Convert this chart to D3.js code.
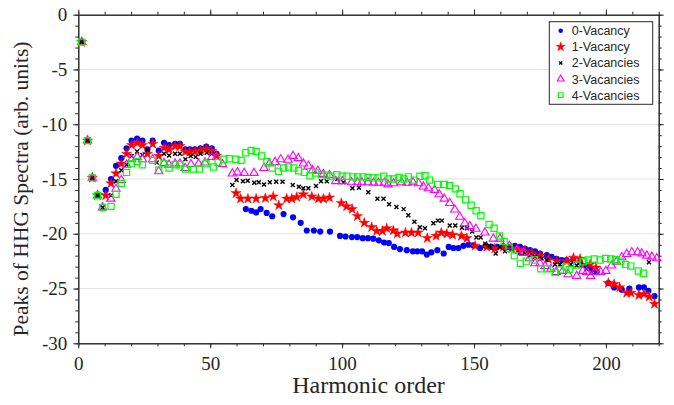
<!DOCTYPE html>
<html>
<head>
<meta charset="utf-8">
<script src="https://cdn.jsdelivr.net/npm/d3@7"></script>
<style>
  body { margin: 0; background: #fff; }
  .tick text { font-family: 'Liberation Serif', serif; }
</style>
</head>
<body>
<div id="svg"></div>
<script>
// peak positions (harmonic order) and heights, one pair of arrays per series
var order0 = [1.3,3.5,5.3,7.3,10.4,12.4,14.3,16.3,18.3,20.2,22.3,24.3,26.2,28.2,30.5,32.5,34.4,36.7,38.5,40.6,42.3,44.2,46.3,48.5,50.6,52.4,
  63.5,65.6,67.4,69.1,71.4,73.5,77.8,81.4,84.3,86.6,89.3,91.7,95.4,99.2,101.3,103.7,105.7,107.8,109.8,111.8,113.9,115.9,117.7,119.7,121.9,124.5,126.8,128.5,130.3,132.1,133.8,136.1,138.5,140.4,142.2,144.1,146,147.9,149.7,152.3,154.4,156.6,158.8,161.1,163.3,165.5,167.4,169.3,171.2,173.1,175,177.6,179.4,181.3,183.2,185.1,187.6,190.2,192.7,194.6,196.5,
  200.9,203.1,206,208.9,212.5,214.4,216.1,218.4];
var peaks0 = [-2.5,-11.5,-14.9,-16.5,-16.0,-15.0,-13.8,-13.1,-12.2,-11.5,-11.3,-11.5,-12.3,-11.5,-12.4,-11.7,-11.9,-11.8,-11.8,-12.3,-12.3,-12.3,-12.2,-12.05,-12.2,-12.7,
  -17.75,-17.9,-18.05,-17.75,-18.1,-18.4,-18.2,-18.5,-19.0,-19.7,-19.7,-19.8,-19.8,-20.2,-20.25,-20.3,-20.3,-20.4,-20.4,-20.45,-20.6,-20.8,-20.85,-21.2,-21.4,-21.5,-21.6,-21.6,-21.6,-21.9,-21.7,-21.5,-21.8,-21.2,-21.3,-21.3,-21.1,-21.0,-21.05,-21.3,-21.1,-21.2,-21.2,-21.15,-21.2,-21.1,-21.2,-21.35,-21.5,-21.6,-21.8,-21.95,-22.1,-22.3,-22.4,-22.4,-22.4,-22.6,-22.9,-23.2,-23.5,
  -24.5,-24.9,-25.1,-25.0,-24.9,-24.9,-25.2,-25.7];

var order1 = [1.3,3.5,5.3,7.3,10.4,12.4,14.3,16.3,18.3,20.2,22.3,24.3,26.2,28.2,30.5,32.5,34.4,36.7,38.5,40.6,42.3,44.2,46.3,48.5,50.6,52.4,
  59.8,61.5,64.3,67.4,70.9,73.9,76.0,79.0,80.9,82.8,85.3,88.5,91.0,92.9,95.2,99.7,101.7,103.8,105.8,108.4,111.2,113.1,115.3,116.9,119.4,120.9,124.0,126.3,128.8,132.3,135.6,137.6,139.7,141.9,145.2,147.3,150.4,154.8,157.9,161.1,164.3,166.8,169.3,171.9,175.0,178.2,181.4,185.1,187.7,190.2,194.0,196.2,
  200.9,203.1,205.2,207.9,209.5,212.5,214.4,216.4,218.4];
var peaks1 = [-2.5,-11.5,-14.9,-16.5,-16.5,-15.4,-14.5,-13.6,-12.7,-11.9,-11.7,-11.9,-12.7,-11.8,-12.9,-12.15,-12.3,-12.0,-12.0,-12.5,-12.5,-12.5,-12.4,-12.25,-12.45,-12.9,
  -16.3,-16.8,-16.8,-16.8,-16.75,-16.6,-17.4,-16.8,-16.8,-16.65,-16.4,-16.6,-16.8,-16.8,-16.7,-17.2,-17.5,-17.75,-18.4,-19.0,-19.4,-19.75,-19.75,-19.5,-19.7,-20.0,-19.9,-19.9,-19.9,-20.4,-20.2,-19.9,-20.0,-20.1,-20.2,-20.4,-21.1,-21.2,-21.35,-21.2,-21.35,-21.45,-21.6,-21.8,-22.0,-22.3,-22.5,-22.5,-22.2,-22.3,-22.8,-23.1,
  -24.5,-24.6,-24.9,-25.4,-25.4,-25.6,-25.5,-25.75,-26.4];

var order2 = [1.3,3.5,5.3,7.3,9.2,12.4,14.3,16.3,18.3,20.2,22.3,24.3,26.2,29.7,32.5,34.4,36.7,38.5,40.6,42.6,44.5,46.3,48.7,50.6,
  58.4,60.0,62.4,64.2,66.7,68.4,70.4,72.6,75.0,77.4,81.3,83.6,85.3,87.2,90.1,92.0,94.2,98.2,100.5,103.9,106.4,109.9,113.4,115.7,117.8,120.6,123.3,125.1,127.4,129.5,131.4,134.6,136.3,137.8,140.8,142.9,145.4,147.3,149.3,150.9,152.5,154.2,155.8,158.2,159.8,161.7,164.2,167.2,169.3,171.2,173.1,175.6,177.5,180.7,182.6,186.7,188.9,190.8,192.7,194.6,
  216.3];
var peaks2 = [-2.5,-11.5,-14.9,-16.5,-17.6,-16.5,-15.2,-14.2,-13.7,-12.9,-12.5,-12.8,-12.35,-13.5,-12.7,-12.85,-12.7,-12.7,-13.2,-12.9,-13.0,-12.7,-12.6,-12.7,
  -15.55,-15.1,-15.2,-15.15,-15.35,-15.3,-15.5,-15.3,-15.25,-15.25,-15.55,-15.7,-15.85,-15.85,-15.65,-15.2,-15.2,-15.0,-15.3,-15.85,-15.8,-16.2,-16.8,-16.8,-17.3,-17.55,-17.75,-18.3,-18.9,-19.4,-19.5,-19.05,-18.8,-18.8,-19.25,-19.25,-19.45,-19.5,-19.8,-20.35,-20.35,-20.9,-21.1,-21.8,-21.2,-21.6,-21.4,-21.75,-21.75,-21.95,-22.1,-22.25,-22.4,-22.8,-22.8,-22.8,-22.9,-22.9,-23.25,-23.5,
  -22.6];

var order3 = [1.3,3.5,5.3,7.3,9.2,12.3,14.3,16.3,18.3,20.2,22.3,24.3,28.2,30.5,32.5,34.4,36.7,38.5,40.5,42.7,45.6,48.0,50.6,52.4,54.7,
  58.4,60.3,62.9,66.6,70.4,72.4,74.6,76.7,79.5,81.4,83.4,85.3,87.2,88.8,90.8,92.9,95.2,97.6,100.1,103.6,105.8,107.5,109.8,111.9,113.8,116.0,117.4,119.5,122.5,124.6,126.9,129.0,130.8,132.7,135.0,136.8,138.7,140.8,142.7,144.6,146.5,148.4,150.7,154.1,157.3,159.8,163.4,166.2,168.7,171.0,173.1,175.0,176.9,179.1,181.1,183.6,185.7,188.9,191.2,192.7,194.2,195.8,198.0,200.0,202.1,204.0,206.0,207.9,209.8,212.0,213.6,215.5,217.4,219.3];
var peaks3 = [-2.5,-11.5,-14.9,-16.5,-17.6,-16.8,-15.9,-15.1,-13.7,-13.2,-13.0,-13.2,-13.2,-14.3,-13.55,-13.7,-13.6,-13.6,-14.0,-13.65,-13.6,-13.5,-13.0,-13.0,-13.65,
  -14.5,-14.4,-14.45,-14.45,-14.0,-13.6,-13.45,-13.2,-13.25,-12.9,-13.1,-13.6,-13.8,-14.2,-14.25,-14.55,-14.65,-15.2,-15.2,-15.3,-15.3,-15.3,-15.3,-15.35,-15.35,-15.35,-15.5,-15.4,-15.3,-15.35,-15.3,-15.4,-15.7,-15.85,-16.0,-16.4,-16.8,-17.2,-17.8,-18.45,-19.05,-19.3,-19.55,-19.9,-20.45,-20.45,-21.1,-21.5,-21.75,-22.25,-22.7,-22.7,-22.95,-23.2,-23.5,-23.4,-23.7,-23.85,-23.4,-23.5,-23.85,-23.5,-23.5,-23.4,-22.9,-22.55,-22.15,-21.85,-21.7,-21.7,-21.8,-22.0,-22.1,-22.25];

var order4 = [1.3,3.5,5.3,7.3,9.2,12.4,14.3,16.3,18.3,20.2,22.3,24.3,28.2,30.5,32.5,34.4,36.7,38.5,40.6,43.6,45.9,48.4,51.2,53.0,55.2,57.2,59.7,61.7,63.5,65.5,67.4,69.5,71.5,73.5,75.9,77.8,79.7,81.7,83.5,85.7,87.8,90.0,92.2,94.2,95.7,98.0,100.0,101.8,104.1,105.9,107.9,109.8,111.7,113.6,115.8,117.5,119.5,121.5,123.4,125.1,127.3,129.5,131.4,133.1,136.2,138.8,140.7,142.9,144.7,146.8,148.9,150.8,152.6,155.7,157.6,159.6,161.4,163.3,165.3,167.6,169.8,172.8,175.3,177.8,180.8,182.8,184.8,186.1,188.9,191.4,193.3,195.6,197.8,199.9,201.8,203.7,205.6,207.5,209.4,212.3,214.2];
var peaks4 = [-2.5,-11.5,-14.9,-16.5,-17.6,-17.5,-16.4,-15.4,-14.4,-13.6,-13.4,-13.7,-13.3,-14.2,-13.6,-14.0,-13.7,-13.7,-14.1,-14.1,-14.1,-13.6,-13.9,-13.5,-13.2,-13.15,-13.2,-13.3,-12.6,-12.4,-12.5,-12.9,-13.4,-14.0,-14.3,-14.0,-13.9,-14.0,-14.25,-14.4,-14.7,-14.45,-14.6,-14.65,-14.75,-14.6,-14.75,-14.75,-14.8,-14.8,-14.8,-14.85,-14.9,-14.9,-14.75,-15.0,-15.0,-14.85,-15.0,-14.8,-15.1,-14.75,-14.7,-15.1,-15.5,-15.5,-15.6,-15.9,-16.35,-16.9,-17.4,-17.9,-18.35,-19.15,-19.5,-20.2,-20.7,-21.3,-22.0,-22.7,-22.5,-22.4,-23.2,-23.2,-23.55,-23.3,-23.0,-23.25,-22.85,-22.55,-22.4,-22.3,-22.4,-22.25,-22.3,-22.35,-22.5,-22.8,-22.95,-23.4,-23.6];

var seriesNames = ['0-Vacancy', '1-Vacancy', '2-Vacancies', '3-Vacancies', '4-Vacancies'];
var xTicks = [0, 50, 100, 150, 200];
var yTicks = [0, -5, -10, -15, -20, -25, -30];

var w = 674, h = 405;
var border = { top: 14.7, bottom: 61.7, left: 78.3, right: 15.3 };

const svg = d3.select('#svg')
  .append('svg')
  .attr('width', w)
  .attr('height', h);

var x = d3.scaleLinear().domain([0, 220]).range([border.left, w - border.right]);
var y = d3.scaleLinear().domain([-30, 0]).range([h - border.bottom, border.top]);

// horizontal grid
svg.append('g')
  .selectAll('line')
  .data(yTicks.filter(d => d != 0 && d != -30))
  .enter().append('line')
  .attr('x1', x(0)).attr('x2', x(220))
  .attr('y1', d => y(d)).attr('y2', d => y(d))
  .attr('stroke', '#e3e3e3')
  .attr('stroke-width', 1);

var axisColor = '#262626';
function styleAxis(g) {
  g.select('.domain').attr('stroke', axisColor);
  g.selectAll('.tick line').attr('stroke', axisColor);
  g.selectAll('.tick text').attr('fill', axisColor).attr('font-size', 19);
}

var xMinor = d3.range(0, 221, 10);
var yMinor = d3.range(-30, 1, 1);

// bottom + top
svg.append('g')
  .attr('transform', `translate(0, ${y(-30)})`)
  .call(d3.axisBottom(x).tickValues(xMinor).tickSize(3).tickSizeOuter(0).tickFormat(''))
  .call(styleAxis);
svg.append('g')
  .attr('transform', `translate(0, ${y(-30)})`)
  .call(d3.axisBottom(x).tickValues(xTicks).tickSize(5).tickSizeOuter(0).tickPadding(8).tickFormat(d3.format('d')))
  .call(styleAxis);
svg.append('g')
  .attr('transform', `translate(0, ${y(0)})`)
  .call(d3.axisTop(x).tickValues(xMinor).tickSize(3).tickSizeOuter(0).tickFormat(''))
  .call(styleAxis);
svg.append('g')
  .attr('transform', `translate(0, ${y(0)})`)
  .call(d3.axisTop(x).tickValues(xTicks).tickSize(5).tickSizeOuter(0).tickFormat(''))
  .call(styleAxis);

// left + right
svg.append('g')
  .attr('transform', `translate(${x(0)}, 0)`)
  .call(d3.axisLeft(y).tickValues(yMinor).tickSize(3).tickSizeOuter(0).tickFormat(''))
  .call(styleAxis);
svg.append('g')
  .attr('transform', `translate(${x(0)}, 0)`)
  .call(d3.axisLeft(y).tickValues(yTicks).tickSize(5).tickSizeOuter(0).tickPadding(6).tickFormat(d => d))
  .call(styleAxis);
svg.append('g')
  .attr('transform', `translate(${x(220)}, 0)`)
  .call(d3.axisRight(y).tickValues(yMinor).tickSize(3).tickSizeOuter(0).tickFormat(''))
  .call(styleAxis);
svg.append('g')
  .attr('transform', `translate(${x(220)}, 0)`)
  .call(d3.axisRight(y).tickValues(yTicks).tickSize(5).tickSizeOuter(0).tickFormat(''))
  .call(styleAxis);

// markers
var markers = [
  { path: d3.symbol().type(d3.symbolCircle).size(30)(), fill: '#0000ff', stroke: 'none', sw: 0 },
  { path: d3.symbol().type(d3.symbolStar).size(32)(), fill: '#ff0000', stroke: '#ff0000', sw: 0.5 },
  { path: 'M-2,-2L2,2M-2,2L2,-2', fill: 'none', stroke: '#000', sw: 1.4 },
  { path: d3.symbol().type(d3.symbolTriangle).size(30)(), fill: 'none', stroke: '#ff00ff', sw: 1.1 },
  { path: d3.symbol().type(d3.symbolSquare).size(38)(), fill: 'none', stroke: '#00ff00', sw: 1.2 }
];

var orders = [order0, order1, order2, order3, order4];
var peaks = [peaks0, peaks1, peaks2, peaks3, peaks4];

orders.forEach((xs, i) => {
  var pts = xs.map((v, j) => ({ x: v, y: peaks[i][j] }));
  svg.append('g')
    .selectAll('path')
    .data(pts)
    .enter().append('path')
    .attr('d', markers[i].path)
    .attr('transform', d => `translate(${x(d.x)}, ${y(d.y)})`)
    .attr('fill', markers[i].fill)
    .attr('stroke', markers[i].stroke)
    .attr('stroke-width', markers[i].sw);
});

// axis titles
svg.append('text')
  .attr('x', (x(0) + x(220)) / 2)
  .attr('y', 393)
  .attr('text-anchor', 'middle')
  .attr('font-family', 'Liberation Serif, serif')
  .attr('font-size', 24)
  .attr('fill', axisColor)
  .text('Harmonic order');

svg.append('text')
  .attr('transform', 'rotate(-90)')
  .attr('x', -189)
  .attr('y', 28)
  .attr('text-anchor', 'middle')
  .attr('font-family', 'Liberation Serif, serif')
  .attr('font-size', 21.5)
  .attr('fill', axisColor)
  .text('Peaks of HHG Spectra (arb. units)');

// legend
var legend = svg.append('g').attr('transform', 'translate(549.3, 21.7)');
legend.append('rect')
  .attr('width', 103.4).attr('height', 82.6)
  .attr('fill', '#fff')
  .attr('stroke', axisColor)
  .attr('stroke-width', 1);

var legendMarkers = [
  d3.symbol().type(d3.symbolCircle).size(16)(),
  d3.symbol().type(d3.symbolStar).size(26)(),
  'M-1.5,-1.5L1.5,1.5M-1.5,1.5L1.5,-1.5',
  d3.symbol().type(d3.symbolTriangle).size(20)(),
  d3.symbol().type(d3.symbolSquare).size(22)()
];

seriesNames.forEach((name, i) => {
  var row = legend.append('g').attr('transform', `translate(0, ${9 + i * 16.1})`);
  row.append('path')
    .attr('d', legendMarkers[i])
    .attr('transform', 'translate(11.4, 0)')
    .attr('fill', markers[i].fill)
    .attr('stroke', markers[i].stroke)
    .attr('stroke-width', markers[i].sw);
  row.append('text')
    .attr('x', 22.4)
    .attr('y', 4.5)
    .attr('font-family', 'Liberation Sans, Arial, sans-serif')
    .attr('font-size', 12.5)
    .attr('fill', axisColor)
    .text(name);
});
</script>
</body>
</html>
